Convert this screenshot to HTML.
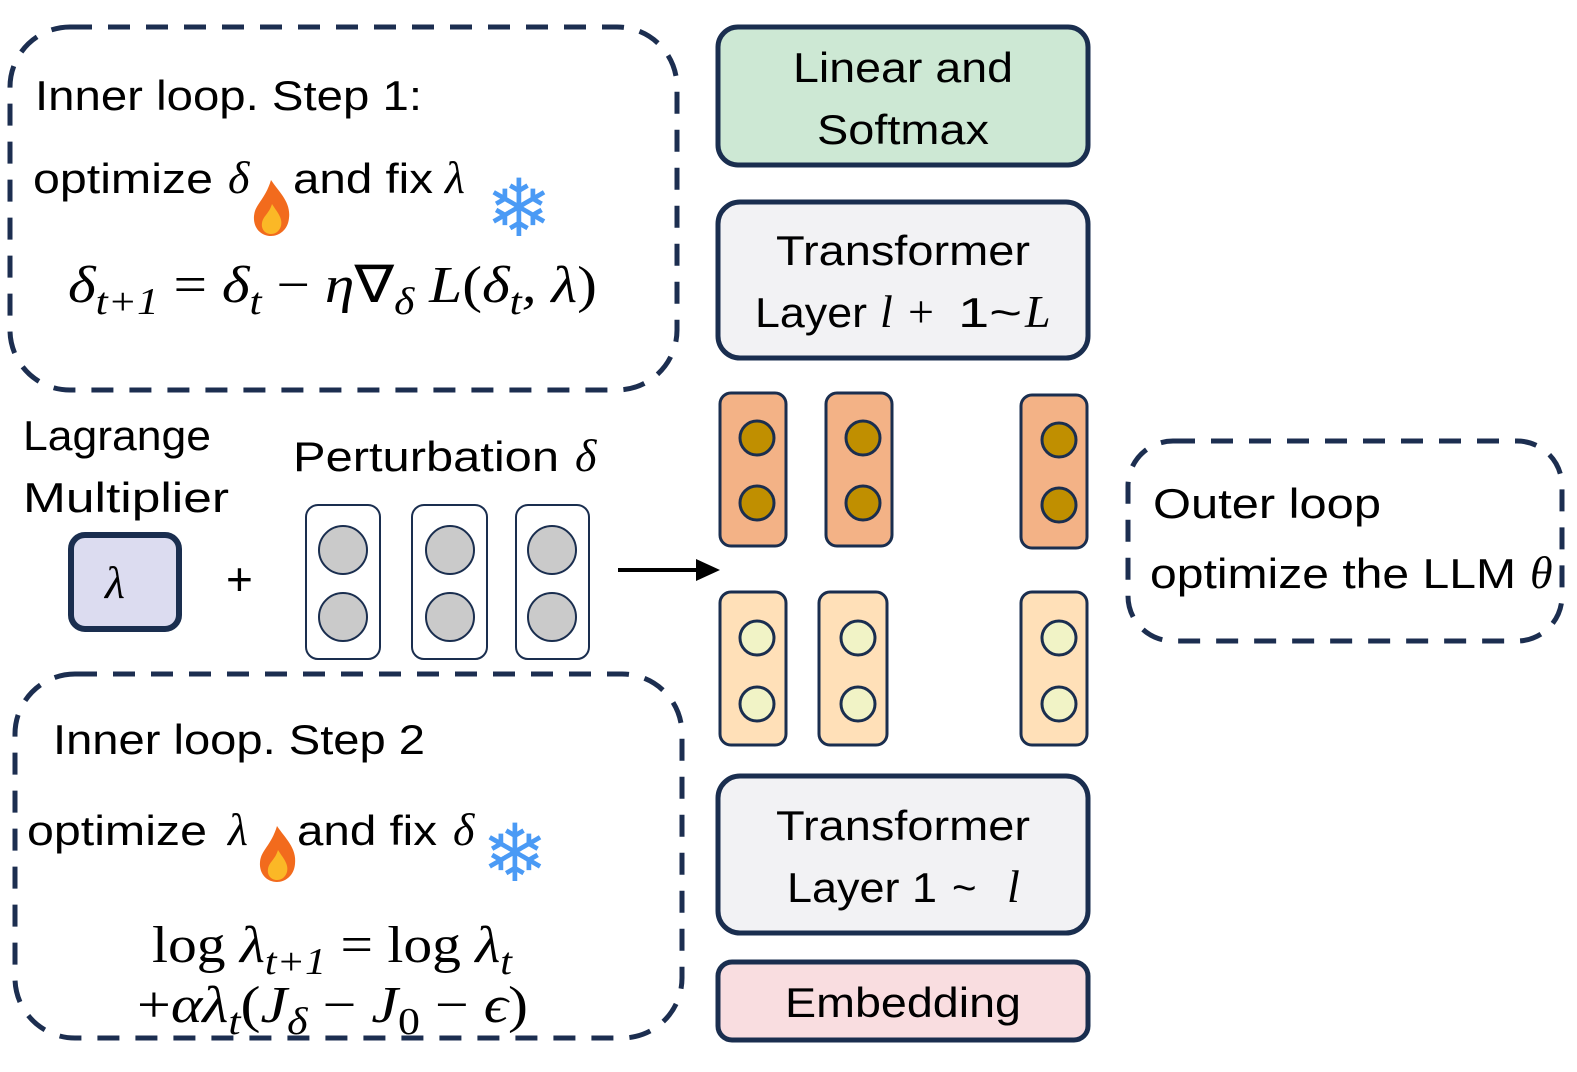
<!DOCTYPE html>
<html><head><meta charset="utf-8"><style>html,body{margin:0;padding:0;background:#fff}svg{display:block}</style></head>
<body>
<svg width="1577" height="1072" viewBox="0 0 1577 1072" xmlns="http://www.w3.org/2000/svg">
<defs>
<g id="fire">
<path d="M0,-30 C8,-18 20,-8 18,8 C17,20 8,26 0,26 C-10,26 -18,18 -17,6 C-16,-6 -6,-10 0,-30 Z" fill="#f26b1d"/>
<path d="M1,-6 C6,2 12,8 10,16 C8,22 4,24 0,24 C-6,24 -10,19 -9,13 C-8,6 -2,4 1,-6 Z" fill="#fbb826"/>
</g>
</defs>
<g fill="none" stroke="#1c2e50" stroke-width="5" stroke-dasharray="22 16">
<rect x="10" y="27" width="667" height="363" rx="60"/>
<rect x="15" y="674" width="667" height="364" rx="60"/>
<rect x="1128" y="441" width="434" height="200" rx="45"/>
</g>
<g stroke="#1a2e4f" stroke-width="5">
<rect x="718" y="27" width="370" height="138" rx="20" fill="#cde8d4"/>
<rect x="718" y="202" width="370" height="156" rx="22" fill="#f2f2f4"/>
<rect x="718" y="776" width="370" height="157" rx="22" fill="#f2f2f4"/>
<rect x="718" y="962" width="370" height="78" rx="14" fill="#f9dde0"/>
</g>
<g stroke="#1a2e4f" stroke-width="3">
<rect x="720" y="393" width="66" height="153" rx="11" fill="#f3b286"/>
<rect x="826" y="393" width="66" height="153" rx="11" fill="#f3b286"/>
<rect x="1021" y="395" width="66" height="153" rx="11" fill="#f3b286"/>
<g fill="#c08f00">
<circle cx="757" cy="438" r="17"/><circle cx="757" cy="503" r="17"/>
<circle cx="863" cy="438" r="17"/><circle cx="863" cy="503" r="17"/>
<circle cx="1059" cy="440" r="17"/><circle cx="1059" cy="505" r="17"/>
</g>
<rect x="720" y="592" width="66" height="153" rx="11" fill="#ffe0b8"/>
<rect x="819" y="592" width="68" height="153" rx="11" fill="#ffe0b8"/>
<rect x="1021" y="592" width="66" height="153" rx="11" fill="#ffe0b8"/>
<g fill="#f1f3c6">
<circle cx="757" cy="638" r="17"/><circle cx="757" cy="704" r="17"/>
<circle cx="858" cy="638" r="17"/><circle cx="858" cy="704" r="17"/>
<circle cx="1059" cy="638" r="17"/><circle cx="1059" cy="704" r="17"/>
</g>
</g>
<rect x="71" y="535" width="108" height="94" rx="14" fill="#dcdcf0" stroke="#1a2e4f" stroke-width="6"/>
<g stroke="#1a2e4f" stroke-width="2">
<rect x="306" y="505" width="74" height="154" rx="12" fill="#fff"/>
<rect x="412" y="505" width="75" height="154" rx="12" fill="#fff"/>
<rect x="516" y="505" width="73" height="154" rx="12" fill="#fff"/>
<g fill="#cacaca">
<circle cx="343" cy="550" r="24"/><circle cx="343" cy="617" r="24"/>
<circle cx="450" cy="550" r="24"/><circle cx="450" cy="617" r="24"/>
<circle cx="552" cy="550" r="24"/><circle cx="552" cy="617" r="24"/>
</g>
</g>
<line x1="618" y1="570" x2="698" y2="570" stroke="#000" stroke-width="4"/>
<polygon points="696,559 720,570 696,581" fill="#000"/>
<g font-family="'Liberation Sans',sans-serif" font-size="42" fill="#000">
<text x="35" y="110" textLength="387" lengthAdjust="spacingAndGlyphs">Inner loop. Step 1:</text>
<text x="33" y="193" textLength="180" lengthAdjust="spacingAndGlyphs">optimize</text>
<text x="293" y="193" textLength="140" lengthAdjust="spacingAndGlyphs">and fix</text>
<text x="53" y="754" textLength="372" lengthAdjust="spacingAndGlyphs">Inner loop. Step 2</text>
<text x="27" y="845" textLength="180" lengthAdjust="spacingAndGlyphs">optimize</text>
<text x="297" y="845" textLength="140" lengthAdjust="spacingAndGlyphs">and fix</text>
<text x="23" y="450" textLength="188" lengthAdjust="spacingAndGlyphs">Lagrange</text>
<text x="23" y="512" textLength="206" lengthAdjust="spacingAndGlyphs">Multiplier</text>
<text x="293" y="471" textLength="266" lengthAdjust="spacingAndGlyphs">Perturbation</text>
<text x="1153" y="518" textLength="228" lengthAdjust="spacingAndGlyphs">Outer loop</text>
<text x="1150" y="588" textLength="366" lengthAdjust="spacingAndGlyphs">optimize the LLM</text>
<text x="903" y="82" text-anchor="middle" textLength="220" lengthAdjust="spacingAndGlyphs">Linear and</text>
<text x="903" y="144" text-anchor="middle" textLength="172" lengthAdjust="spacingAndGlyphs">Softmax</text>
<text x="903" y="265" text-anchor="middle" textLength="254" lengthAdjust="spacingAndGlyphs">Transformer</text>
<text x="903" y="840" text-anchor="middle" textLength="254" lengthAdjust="spacingAndGlyphs">Transformer</text>
<text x="903" y="1017" text-anchor="middle" textLength="236" lengthAdjust="spacingAndGlyphs">Embedding</text>
<text x="755" y="327" textLength="112" lengthAdjust="spacingAndGlyphs">Layer</text>
<text x="958" y="327" textLength="64" lengthAdjust="spacingAndGlyphs">1~</text>
<text x="787" y="902" textLength="150" lengthAdjust="spacingAndGlyphs">Layer 1</text>
<text x="952" y="902">~</text>
<text x="226" y="595" font-size="46">+</text>
</g>
<g font-family="'Liberation Serif',serif" font-style="italic" font-size="46" fill="#000">
<text x="228" y="193">δ</text>
<text x="445" y="193">λ</text>
<text x="228" y="845">λ</text>
<text x="453" y="845">δ</text>
<text x="575" y="471">δ</text>
<text x="1530" y="588">θ</text>
<text x="105" y="598">λ</text>
<text x="880" y="327">l</text>
<text x="1025" y="327">L</text>
<text x="1007" y="902">l</text>
<text x="908" y="327" font-style="normal">+</text>
</g>
<g font-family="'Liberation Serif',serif" font-style="italic" font-size="52" fill="#000">
<text x="68" y="302" textLength="529" lengthAdjust="spacingAndGlyphs">δ<tspan font-size="38" dy="12">t+1</tspan><tspan dy="-12" font-style="normal"> = </tspan>δ<tspan font-size="38" dy="12">t</tspan><tspan dy="-12" font-style="normal"> − </tspan>η<tspan font-style="normal">∇</tspan><tspan font-size="38" dy="12">δ</tspan><tspan dy="-12"> L</tspan><tspan font-style="normal">(</tspan>δ<tspan font-size="38" dy="12">t</tspan><tspan dy="-12">, λ</tspan><tspan font-style="normal">)</tspan></text>
<text x="152" y="962" textLength="360" lengthAdjust="spacingAndGlyphs"><tspan font-style="normal">log </tspan>λ<tspan font-size="38" dy="12">t+1</tspan><tspan dy="-12" font-style="normal"> = log </tspan>λ<tspan font-size="38" dy="12">t</tspan></text>
<text x="137" y="1022" textLength="391" lengthAdjust="spacingAndGlyphs"><tspan font-style="normal">+</tspan>αλ<tspan font-size="38" dy="12">t</tspan><tspan dy="-12" font-style="normal">(</tspan>J<tspan font-size="38" dy="12">δ</tspan><tspan dy="-12" font-style="normal"> − </tspan>J<tspan font-size="38" dy="12" font-style="normal">0</tspan><tspan dy="-12" font-style="normal"> − </tspan>ϵ<tspan font-style="normal">)</tspan></text>
</g>
<use href="#fire" x="271" y="210"/>
<use href="#fire" x="277" y="856"/>
<g font-family="'DejaVu Sans',sans-serif" font-size="80" fill="#4a9af5" text-anchor="middle">
<text x="519" y="236">❄</text>
<text x="515" y="881">❄</text>
</g>
</svg>
</body></html>
